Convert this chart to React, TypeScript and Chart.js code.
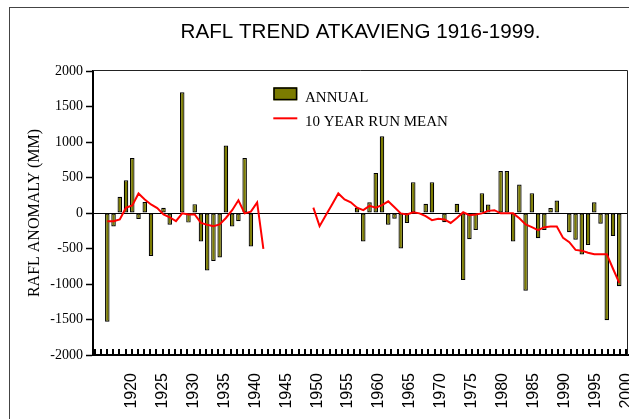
import React, { useEffect, useRef } from 'react';
import { Chart, registerables } from 'chart.js';

Chart.register(...registerables);

// ---------- data ----------
const years = [
  1916, 1917, 1918, 1919, 1920, 1921, 1922, 1923, 1924, 1925,
  1926, 1927, 1928, 1929, 1930, 1931, 1932, 1933, 1934, 1935,
  1936, 1937, 1938, 1939, 1940, 1941, 1942, 1943, 1944, 1945,
  1946, 1947, 1948, 1949, 1950, 1951, 1952, 1953, 1954, 1955,
  1956, 1957, 1958, 1959, 1960, 1961, 1962, 1963, 1964, 1965,
  1966, 1967, 1968, 1969, 1970, 1971, 1972, 1973, 1974, 1975,
  1976, 1977, 1978, 1979, 1980, 1981, 1982, 1983, 1984, 1985,
  1986, 1987, 1988, 1989, 1990, 1991, 1992, 1993, 1994, 1995,
  1996, 1997, 1998, 1999,
];

const annualAnomaly: (number | null)[] = [
  -1530, -190, 230, 460, 775, -85, 155, -605, null, 75,
  -165, null, 1700, -135, 125, -400, -810, -675, -625, 950,
  -190, -115, 775, -470, null, null, null, null, null, null,
  null, null, null, null, null, null, null, null, null, null,
  75, -400, 150, 565, 1080, -165, -80, -500, -140, 435,
  null, 130, 435, -10, -130, null, 130, -945, -370, -240,
  280, 120, null, 590, 590, -400, 400, -1095, 280, -355,
  -240, 70, 175, null, -270, -375, -585, -450, 150, -150,
  -1510, -325, -1030, null,
];

const runMean10: (number | null)[] = [
  -115, -115, -90, 75, 105, 275, 190, 120, 70, -20,
  -60, -115, -5, -20, -20, -140, -165, -185, -160, -70,
  40, 180, -5, 20, 150, -505, null, null, null, null,
  null, null, null, 75, -185, -30, 120, 275, 190, 150,
  75, 40, 100, 75, 110, 165, 80, -5, -20, 10,
  -5, -45, -100, -80, -90, -140, -70, 10, -30, -20,
  -5, 30, 40, -5, -5, -5, -75, -160, -200, -240,
  -200, -190, -190, -350, -410, -520, -530, -560, -580, -580,
  -580, -785, -985, null,
];

const xTickLabels = [
  '1920', '1925', '1930', '1935', '1940', '1945', '1950', '1955', '1960',
  '1965', '1970', '1975', '1980', '1985', '1990', '1995', '2000',
];

const titleText = 'RAFL TREND ATKAVIENG 1916-1999.';
const yAxisTitle = 'RAFL ANOMALY (MM)';
const seriesLabels = ['ANNUAL', '10 YEAR RUN MEAN'];

// ---------- plugins ----------
const framePlugin = {
  id: 'plotFrame',
  afterDraw(chart: any) {
    const { ctx, chartArea } = chart;
    ctx.save();
    ctx.strokeStyle = '#222';
    ctx.lineWidth = 1;
    ctx.beginPath();
    const ty = Math.round(chartArea.top) - 0.5;
    const rx = Math.round(chartArea.right) - 0.5;
    ctx.moveTo(chartArea.left, ty);
    ctx.lineTo(rx, ty);
    ctx.lineTo(rx, chartArea.bottom);
    ctx.stroke();
    ctx.restore();
  },
};

// inward tick marks of the year axis, at the scale's own tick values
const xTickMarksPlugin = {
  id: 'xTickMarks',
  afterDraw(chart: any) {
    const { ctx, chartArea } = chart;
    const s = chart.scales.xLabels;
    if (!s || !s.ticks) return;
    ctx.save();
    ctx.strokeStyle = '#000';
    ctx.lineWidth = 2;
    ctx.beginPath();
    for (const t of s.ticks) {
      const px = Math.round(s.getPixelForValue(t.value));
      ctx.moveTo(px, chartArea.bottom);
      ctx.lineTo(px, chartArea.bottom - 6);
    }
    ctx.stroke();
    ctx.restore();
  },
};

const legendPlugin = {
  id: 'boxLegend',
  afterDraw(chart: any) {
    const { ctx, chartArea } = chart;
    const lineDs = chart.data.datasets[0];
    const barDs = chart.data.datasets[1];
    const x0 = chartArea.left + 180.3;
    const y0 = chartArea.top + 16.3;
    ctx.save();
    ctx.fillStyle = barDs.backgroundColor;
    ctx.fillRect(x0, y0, 24, 13);
    ctx.strokeStyle = '#000';
    ctx.lineWidth = 1.5;
    ctx.strokeRect(x0 + 0.75, y0 + 0.75, 22.5, 11.5);
    ctx.font = '15px "Liberation Serif", "Times New Roman", serif';
    ctx.fillStyle = '#000';
    ctx.textAlign = 'left';
    ctx.textBaseline = 'alphabetic';
    ctx.fillText(barDs.label, x0 + 31.7, y0 + 14.4);
    ctx.strokeStyle = lineDs.borderColor;
    ctx.lineWidth = 2;
    ctx.beginPath();
    ctx.moveTo(x0, y0 + 31);
    ctx.lineTo(x0 + 24, y0 + 31);
    ctx.stroke();
    ctx.fillText(lineDs.label, x0 + 31.7, y0 + 38.4);
    ctx.restore();
  },
};

export default function App() {
  const canvasRef = useRef<HTMLCanvasElement | null>(null);

  useEffect(() => {
    document.body.style.overflow = 'hidden';
    const canvas = canvasRef.current;
    if (!canvas) return;

    const barPoints = years.map((yr, i) => ({ x: yr, y: annualAnomaly[i] }));
    const linePoints = years.map((yr, i) => ({ x: yr, y: runMean10[i] }));

    const chart = new Chart(canvas, {
      type: 'bar',
      data: {
        datasets: [
          {
            type: 'line',
            label: seriesLabels[1],
            data: linePoints as any,
            borderColor: '#ff0000',
            borderWidth: 2,
            pointRadius: 0,
            tension: 0,
            fill: false,
            order: 0,
            xAxisID: 'x',
            yAxisID: 'y',
          } as any,
          {
            type: 'bar',
            label: seriesLabels[0],
            data: barPoints as any,
            backgroundColor: '#7b7b00',
            borderColor: '#000000',
            borderWidth: 1.2,
            borderSkipped: false,
            categoryPercentage: 1,
            barPercentage: 0.72,
            order: 1,
            xAxisID: 'x',
            yAxisID: 'y',
          } as any,
        ],
      },
      options: {
        animation: false,
        responsive: false,
        maintainAspectRatio: false,
        layout: { padding: { left: 0, right: 1, top: 0, bottom: 0 } },
        plugins: {
          legend: { display: false },
          tooltip: { enabled: false },
          title: {
            display: true,
            text: titleText,
            fullSize: false,
            color: '#000',
            font: { family: '"Liberation Sans", Arial, sans-serif', size: 20.6, weight: 'normal' },
            padding: { top: 20.3, bottom: 26 },
          } as any,
        },
        scales: {
          x: {
            type: 'linear',
            display: false,
            min: 1913.71,
            max: 1999.4,
            offset: false,
            grid: { offset: false },
          },
          xLabels: {
            type: 'linear',
            position: 'bottom',
            min: 1913.737,
            max: 2000.28,
            offset: false,
            border: { display: true, color: '#000', width: 2 },
            grid: {
              offset: false,
              drawOnChartArea: false,
              drawTicks: false,
            },
            ticks: {
              stepSize: 1,
              autoSkip: false,
              includeBounds: false,
              minRotation: 90,
              maxRotation: 90,
              padding: 18,
              color: '#000',
              font: { family: '"Liberation Sans", Arial, sans-serif', size: 16 },
              callback: (v: any) => {
                const n = Number(v);
                const s = String(Math.round(n));
                return xTickLabels.includes(s) && Math.abs(n - Math.round(n)) < 1e-6 ? s : '';
              },
            },
            afterFit: (s: any) => {
              s.height = 64;
              s.paddingLeft = 0;
              s.paddingRight = 0;
            },
          } as any,
          y: {
            type: 'linear',
            position: 'left',
            min: -2000,
            max: 2000,
            border: { display: true, color: '#000', width: 2 },
            grid: {
              drawOnChartArea: true,
              drawTicks: true,
              tickLength: 7,
              tickColor: '#000',
              tickWidth: 1.5,
              lineWidth: 1,
              color: (c: any) => (c.tick && c.tick.value === 0 ? '#000' : 'rgba(0,0,0,0)'),
            },
            ticks: {
              stepSize: 500,
              padding: 3,
              color: '#000',
              font: { family: '"Liberation Serif", "Times New Roman", serif', size: 14 },
              callback: (v: any) => String(v),
            },
            title: {
              display: true,
              text: yAxisTitle,
              color: '#000',
              font: { family: '"Liberation Serif", "Times New Roman", serif', size: 16 },
              padding: { top: 25.4, bottom: 0 },
            },
            afterFit: (s: any) => {
              s.width = 93;
              s.paddingTop = 0;
              s.paddingBottom = 0;
            },
          } as any,
        },
      },
      plugins: [framePlugin, xTickMarksPlugin, legendPlugin],
    });

    return () => chart.destroy();
  }, []);

  return (
    <div
      style={{
        position: 'fixed',
        left: 0,
        top: 0,
        width: 629,
        height: 419,
        overflow: 'hidden',
        background: '#fff',
      }}
    >
      <div
        style={{
          position: 'absolute',
          left: 9,
          top: 7,
          width: 800,
          height: 600,
          borderLeft: '1px solid #444',
          borderTop: '1px solid #444',
        }}
      />
      <canvas
        ref={canvasRef}
        width={629}
        height={419}
        style={{ position: 'absolute', left: 0, top: 0, width: 629, height: 419 }}
      />
    </div>
  );
}
